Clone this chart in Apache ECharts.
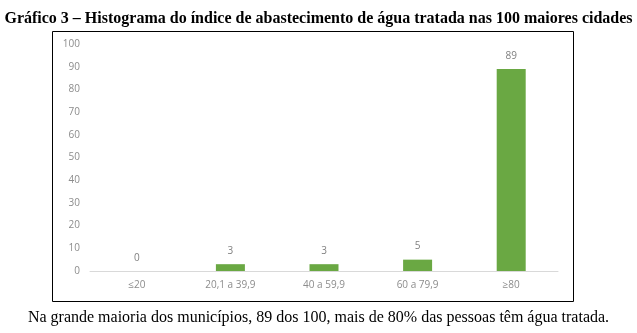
<!DOCTYPE html>
<html><head><meta charset="utf-8">
<script src="https://cdn.jsdelivr.net/npm/echarts@6/dist/echarts.min.js"></script>
<style>html,body{margin:0;padding:0;background:#fff}#c{width:637px;height:333px}</style>
</head><body><div id="c"></div>
<script>
const categories = ['≤20', '20,1 a 39,9', '40 a 59,9', '60 a 79,9', '≥80'];
const values = [0, 3, 3, 5, 89];
const yTicks = [0, 10, 20, 30, 40, 50, 60, 70, 80, 90, 100];
const titleText = 'Gráfico 3 – Histograma do índice de abastecimento de água tratada nas 100 maiores cidades';
const captionText = 'Na grande maioria dos municípios, 89 dos 100, mais de 80% das pessoas têm água tratada.';

const chart = echarts.init(document.getElementById('c'), null, {renderer: 'canvas'});
chart.setOption({
  animation: false,
  backgroundColor: '#fff',
  title: [
    {text: titleText, left: 'center', top: 6,
     textStyle: {fontFamily: 'Liberation Serif', fontWeight: 'bold', fontSize: 16, color: '#000'}},
    {text: captionText, left: 'center', top: 305,
     textStyle: {fontFamily: 'Liberation Serif', fontWeight: 'normal', fontSize: 16, color: '#000'}}
  ],
  graphic: [
    {type: 'rect', shape: {x: 52.5, y: 31.5, width: 521, height: 270},
     style: {fill: 'none', stroke: '#000', lineWidth: 1}, silent: true}
  ],
  grid: {left: 90, right: 79, top: 44, bottom: 62},
  xAxis: {
    type: 'category', data: categories,
    axisLine: {lineStyle: {color: '#d9d9d9', width: 1}},
    axisTick: {show: false},
    axisLabel: {color: '#8c8c8c', fontSize: 10, fontFamily: 'Open Sans', margin: 9}
  },
  yAxis: {
    type: 'value', min: yTicks[0], max: yTicks[yTicks.length - 1], interval: 10,
    axisLine: {show: false}, axisTick: {show: false},
    splitLine: {show: false},
    axisLabel: {color: '#8c8c8c', fontSize: 10, fontFamily: 'Open Sans', margin: 10}
  },
  series: [{
    type: 'bar', data: values, barWidth: 29,
    itemStyle: {color: '#6aa843', borderWidth: 0},
    label: {show: true, position: 'top', distance: 8, color: '#7f7f7f', fontSize: 10, fontFamily: 'Open Sans'}
  }]
});
</script></body></html>
